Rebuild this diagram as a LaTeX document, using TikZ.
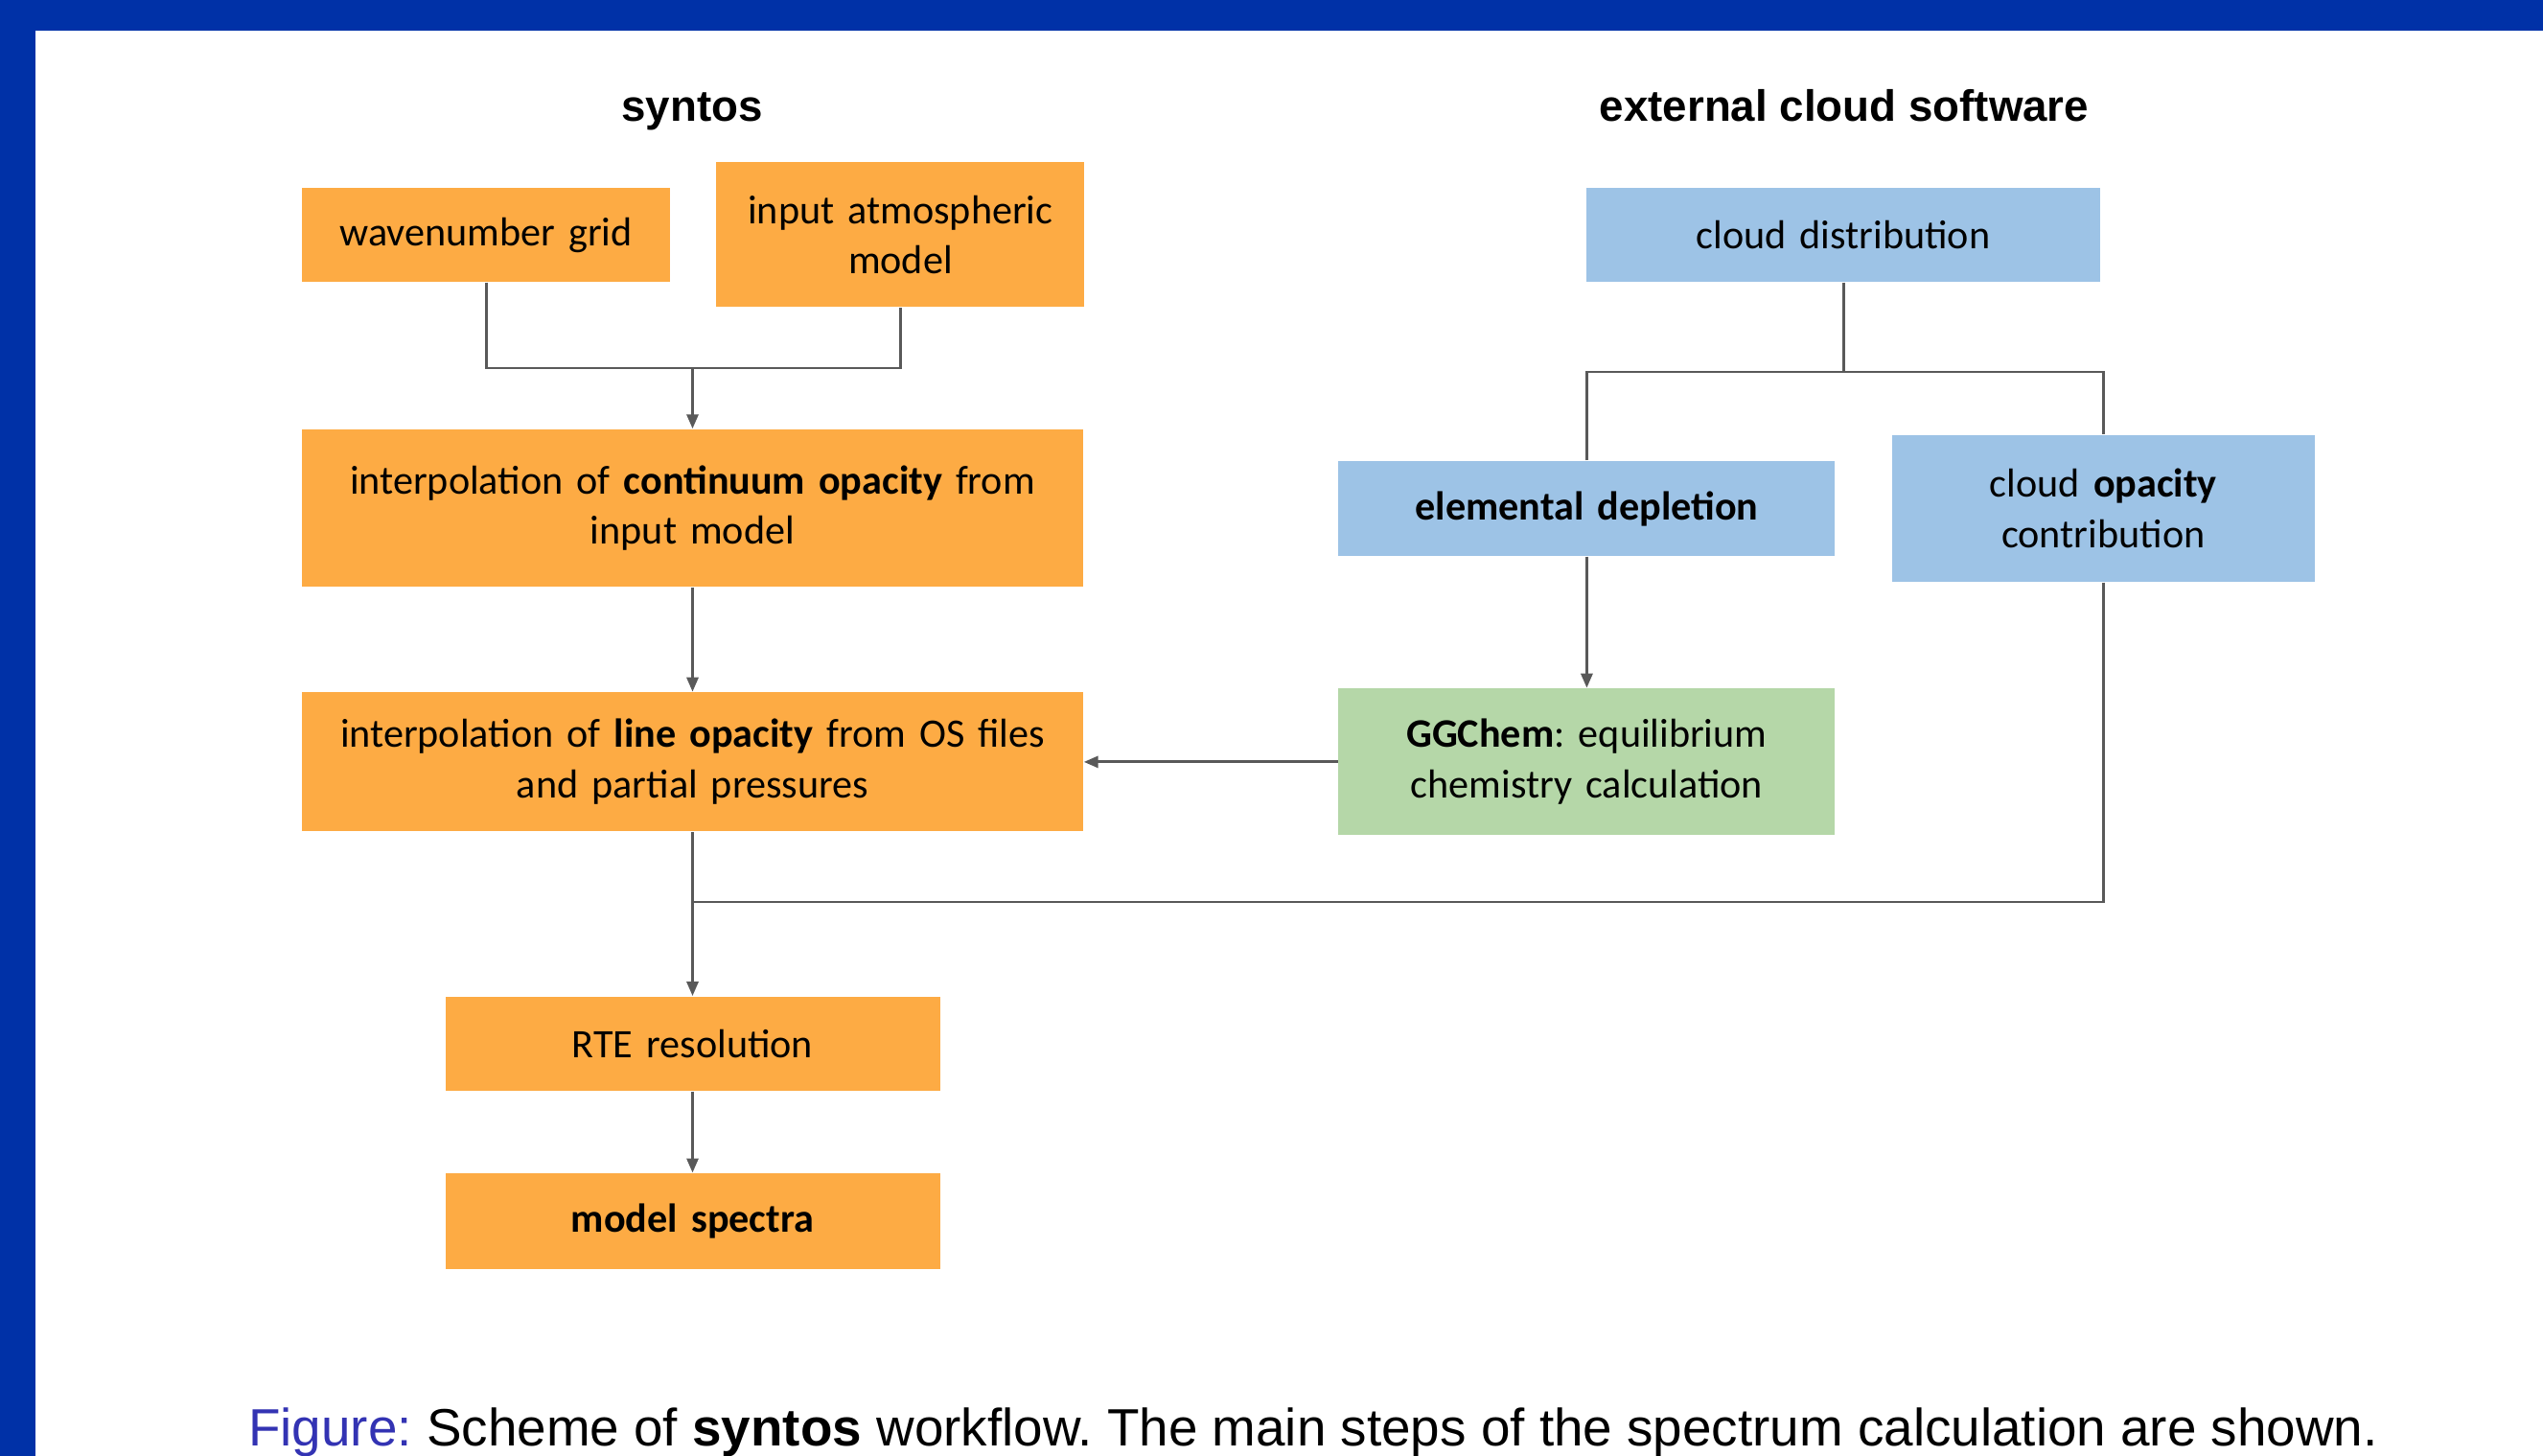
\documentclass[tikz,border=0pt]{standalone}
\usepackage{fontspec}
\setmainfont{Carlito}
\newfontfamily\headfont{Liberation Sans}
\usepackage{tikz}
\usetikzlibrary{positioning,arrows.meta,calc}
\definecolor{synOrange}{HTML}{FDAB44}
\definecolor{synBlue}{HTML}{9DC3E6}
\definecolor{synGreen}{HTML}{B5D7A8}
\definecolor{synLine}{HTML}{595959}
\definecolor{frameBlue}{HTML}{0031A7}
\definecolor{figBlue}{HTML}{3333B3}
\frenchspacing

\begin{document}
\begin{tikzpicture}[
  font=\fontsize{12}{15}\selectfont,
  node distance=1cm,
  >={Triangle[length=0.15cm, width=0.12cm]},
  stepbox/.style={
    rectangle, fill=synOrange, inner sep=0pt,
    align=center, text width=#1
  },
  cloudbox/.style={
    stepbox=#1, fill=synBlue
  },
  chembox/.style={
    stepbox=#1, fill=synGreen
  },
  header/.style={anchor=base, font=\headfont\bfseries\fontsize{13}{15}\selectfont},
  link/.style={draw=synLine, line width=0.85pt},
  flow/.style={link, ->}
]
  \useasboundingbox (0,0) rectangle (26.53,-15.19);

  % slide frame
  \fill[frameBlue] (0,0) rectangle (26.53,-0.32);
  \fill[frameBlue] (0,0) rectangle (0.37,-15.19);

  % headers
  \node[header] (hsyntos) at (7.22,-1.265) {syntos};
  \node[header] (hcloud) at (19.24,-1.265) {external cloud software};

  % syntos inputs
  \node[stepbox=3.84cm, minimum height=0.98cm] (wavegrid) at (5.07,-2.45) {wavenumber grid};
  \node[stepbox=3.84cm, minimum height=1.51cm, right=0.47cm of wavegrid] (atmmodel) {input atmospheric\\model};

  % syntos steps
  \node[stepbox=8.15cm, minimum height=1.64cm] (contopac) at (7.225,-5.30)
    {interpolation of \textbf{continuum opacity} from\\input model};
  \node[stepbox=8.15cm, minimum height=1.45cm, below=1.09cm of contopac] (lineopac)
    {interpolation of \textbf{line opacity} from OS files\\and partial pressures};
  \node[stepbox=5.16cm, minimum height=0.98cm, below=1.71cm of lineopac] (rte) {RTE resolution};
  \node[stepbox=5.16cm, minimum height=1.00cm, below=0.85cm of rte] (spectra) {\textbf{model spectra}};

  % external cloud software
  \node[cloudbox=5.36cm, minimum height=0.98cm] (clouddist) at (19.23,-2.45) {cloud distribution};
  \node[chembox=5.18cm, minimum height=1.53cm, right=2.65cm of lineopac] (ggchem)
    {\textbf{GGChem}: equilibrium\\chemistry calculation};
  \node[cloudbox=5.18cm, minimum height=0.99cm, above=1.37cm of ggchem] (depletion) {\textbf{elemental depletion}};
  \node[cloudbox=4.41cm, minimum height=1.53cm, right=0.58cm of depletion] (cloudopac)
    {cloud \textbf{opacity}\\contribution};

  % junctions
  \coordinate (jtop) at (contopac.north |- 0,-3.84);
  \coordinate (jcloud) at (clouddist.south |- 0,-3.88);
  \coordinate (jbot) at (lineopac.south |- 0,-9.41);

  % connections
  \draw[link] (wavegrid.south) |- (jtop) -| (atmmodel.south);
  \draw[flow] (jtop) -- (contopac.north);
  \draw[flow] (contopac) -- (lineopac);
  \draw[flow] (lineopac) -- (rte);
  \draw[flow] (rte) -- (spectra);
  \draw[link] (clouddist.south) -- (jcloud);
  \draw[link] (depletion.north) |- (jcloud) -| (cloudopac.north);
  \draw[flow] (depletion) -- (ggchem);
  \draw[flow] (ggchem.west) -- (lineopac.east);
  \draw[link] (cloudopac.south) |- (jbot);

  % caption
  \node[font=\headfont\fontsize{15.6}{18}\selectfont] (caption) at (13.70,-14.94)
    {\textcolor{figBlue}{Figure:} Scheme of \textbf{syntos} workflow. The main steps of the spectrum calculation are shown.};
\end{tikzpicture}
\end{document}
